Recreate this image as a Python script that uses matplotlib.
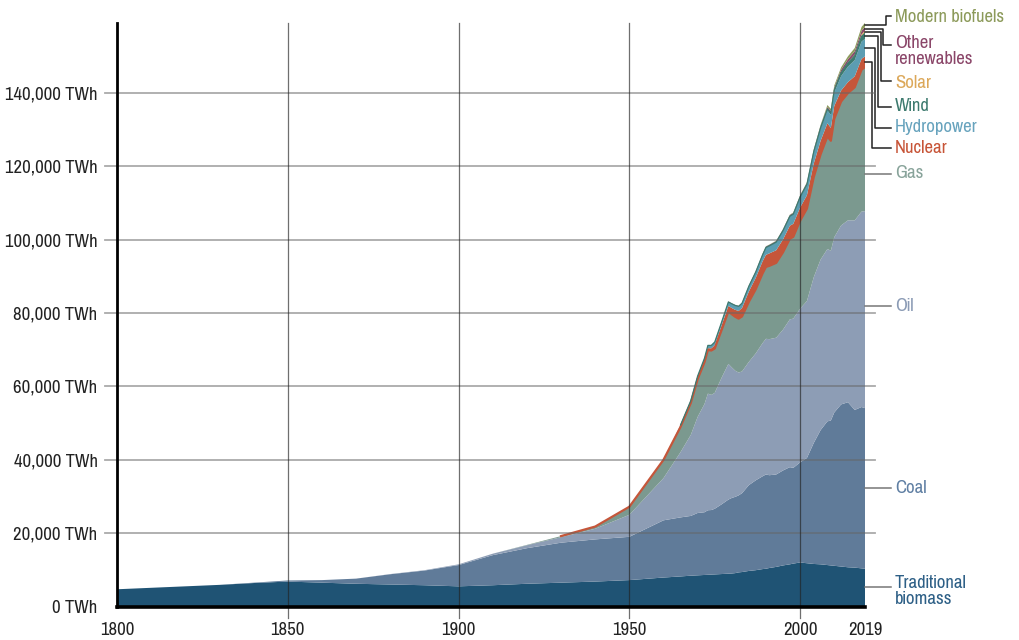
#global primary energy consumption by source, stacked area
import numpy as np
import matplotlib
matplotlib.use("Agg")
import matplotlib.pyplot as plt
from matplotlib import font_manager as fm
from matplotlib.textpath import TextPath

# the original uses a narrow sans face: pick the installed one whose width fits best
cands = {("Liberation Sans", "normal"), ("DejaVu Sans", "normal")}
for f in fm.fontManager.ttflist:
    if f.style != "normal" or f.weight not in (400, "normal", "regular"):
        continue
    if any(k in f.name for k in ("Serif", "Mono", "Slab", "Display")):
        continue
    if f.stretch in ("condensed", "semi-condensed", "extra-condensed") \
            or "Condensed" in f.name or "Narrow" in f.name:
        cands.add((f.name, f.stretch))
best, best_w = ("DejaVu Sans", "normal"), 130
for name, stretch in sorted(cands):
    try:
        fp = fm.FontProperties(family=name, stretch=stretch, size=14.5)
        w = TextPath((0, 0), "140,000 TWh", prop=fp).get_extents().width * 100 / 72
    except Exception:
        continue
    if abs(w - 90) < abs(best_w - 90):
        best, best_w = (name, stretch), w
plt.rcParams['font.family'] = [best[0], 'DejaVu Sans']
plt.rcParams['font.stretch'] = best[1]
FS = max(11.5, min(15.5, 14.5 * 90 / best_w))

years = [1800, 1810, 1820, 1830, 1840, 1850, 1860, 1870, 1880, 1890, 1900, 1910, 1920, 1930, 1940, 1950, 1960,
         1965, 1968, 1970, 1972, 1973, 1974, 1975, 1977, 1979, 1980,
         1981, 1982, 1983, 1985, 1987, 1989, 1990, 1991, 1993, 1995,
         1997, 1998, 2000, 2002, 2004, 2006, 2008, 2009, 2010, 2012,
         2014, 2016, 2018, 2019]

# TWh
biomass = [4700, 5100, 5500, 5900, 6400, 6800, 6500, 6200, 6000, 5800, 5500, 5800, 6200, 6500, 6800, 7200, 7900,
           8200, 8400, 8500, 8600, 8650, 8700, 8750, 8850, 8950, 9000,
           9100, 9300, 9400, 9700, 9900, 10200, 10300, 10500, 10800, 11200,
           11500, 11700, 12000, 11800, 11600, 11500, 11300, 11200, 11100, 10900,
           10700, 10600, 10400, 10300]
coal = [0, 0, 0, 0, 100, 300, 700, 1400, 2800, 4000, 5800, 8200, 9700, 10900, 11500, 11800, 15600,
        16100, 16300, 17000, 17100, 17600, 17600, 17900, 19000, 20200, 20600,
        20800, 21000, 21500, 23400, 24500, 25300, 25700, 25300, 25200, 25900,
        26500, 26100, 27300, 28700, 33000, 36600, 39200, 39500, 41800, 44200,
        45000, 43000, 44000, 43800]
oil = [0, 0, 0, 0, 0, 0, 0, 0, 50, 100, 200, 400, 800, 1500, 2900, 6000, 11500,
       17800, 22100, 26200, 29500, 31800, 31400, 31600, 34500, 37000, 35600,
       34400, 33500, 33200, 33600, 34600, 36300, 37000, 37100, 37300, 38400,
       40300, 40700, 41900, 42800, 45200, 46500, 47000, 46300, 47800, 48800,
       49600, 51700, 53300, 53700]
gas = [0, 0, 0, 0, 0, 0, 0, 0, 0, 0, 0, 0, 100, 300, 600, 2200, 5000,
       6900, 8700, 10300, 11400, 11900, 12100, 12100, 13000, 14300, 14500,
       14700, 14700, 15000, 16400, 17500, 19000, 19600, 20000, 20400, 21100,
       22000, 22300, 24000, 25200, 27300, 28700, 30700, 30000, 32300, 33800,
       34700, 36300, 38700, 39300]
nuclear = [0, 0, 0, 0, 0, 0, 0, 0, 0, 0, 0, 0, 0, 0, 0, 0, 0,
           100, 150, 250, 400, 500, 600, 900, 1200, 1500, 1700,
           1900, 2100, 2300, 2800, 3100, 3300, 3300, 3400, 3450, 3500,
           3550, 3550, 3600, 3650, 3700, 3700, 3600, 3500, 3500, 3000,
           3000, 3000, 2950, 2900]
hydro = [0, 0, 0, 0, 0, 0, 0, 0, 0, 0, 0, 0, 0, 0, 0, 0, 0,
         400, 500, 600, 700, 750, 800, 850, 950, 1100, 1150,
         1200, 1250, 1300, 1450, 1600, 1750, 2000, 2050, 2200, 2400,
         2550, 2600, 2800, 2900, 3100, 3300, 3500, 3550, 3700, 3900,
         4200, 4400, 4700, 4800]
wind = [0, 0, 0, 0, 0, 0, 0, 0, 0, 0, 0, 0, 0, 0, 0, 0, 0,
        0, 0, 0, 0, 0, 0, 0, 0, 0, 0,
        0, 0, 0, 0, 0, 10, 10, 10, 20, 20,
        30, 40, 60, 100, 150, 230, 380, 480, 600, 900,
        1000, 1200, 1400, 1500]
solar = [0, 0, 0, 0, 0, 0, 0, 0, 0, 0, 0, 0, 0, 0, 0, 0, 0,
         0, 0, 0, 0, 0, 0, 0, 0, 0, 0,
         0, 0, 0, 0, 0, 0, 0, 0, 0, 0,
         0, 0, 0, 0, 0, 0, 10, 20, 30, 100,
         190, 330, 580, 750]
other = [0, 0, 0, 0, 0, 0, 0, 0, 0, 0, 0, 0, 0, 0, 0, 0, 0,
         50, 55, 60, 70, 75, 80, 85, 90, 95, 100,
         110, 120, 130, 150, 180, 220, 250, 260, 280, 300,
         320, 330, 350, 400, 450, 500, 550, 600, 650, 750,
         850, 900, 980, 1000]
biofuels = [0, 0, 0, 0, 0, 0, 0, 0, 0, 0, 0, 0, 0, 0, 0, 0, 0,
            0, 0, 0, 0, 0, 0, 0, 0, 10, 20,
            25, 30, 35, 45, 55, 70, 80, 85, 90, 100,
            110, 110, 120, 150, 180, 300, 520, 550, 600, 650,
            780, 880, 1050, 1100]

names = ["Traditional\nbiomass", "Coal", "Oil", "Gas", "Nuclear", "Hydropower",
         "Wind", "Solar", "Other\nrenewables", "Modern biofuels"]
fill_colors = ["#1f5374", "#607b99", "#8d9db5", "#7b998f", "#c5563a", "#5c9db2",
               "#3c7a70", "#e2b463", "#8c4a6c", "#8c9c5c"]
text_colors = ["#2d5f86", "#5f7fa3", "#8b9bb5", "#88a39a", "#c75437", "#67a3bd",
               "#3d7a6e", "#dca85a", "#8a4568", "#8c9a5a"]

series = [biomass, coal, oil, gas, nuclear, hydro, wind, solar, other, biofuels]
yr = np.array(years)
cum = np.cumsum(np.array(series, dtype=float), axis=0)

W, H = 1020, 640
X0, X1, Y0, Y1 = 117, 865, 606.5, 22.7
YMAX = 159200

def xpx(px):
    return 1800 + (px - X0) * 219 / (X1 - X0)

def ypx(py):
    return (Y0 - py) * YMAX / (Y0 - Y1)

fig = plt.figure(figsize=(W / 100, H / 100), dpi=100)
ax = fig.add_axes([X0 / W, 1 - Y0 / H, (X1 - X0) / W, (Y0 - Y1) / H])

ax.stackplot(years, *series, colors=fill_colors, linewidth=0)

# thin strokes seen along the top of nuclear and wind layers
m = yr >= 1930
ax.plot(yr[m], cum[3][m], color="#c5563a", lw=1.6, zorder=2)
m = yr >= 1965
ax.plot(yr[m], cum[6][m], color="#3c7a70", lw=0.9, zorder=2)

ax.set_xlim(1800, 2019)
ax.set_ylim(0, YMAX)

# grid
for v in range(20000, 160000, 20000):
    ax.plot([xpx(105), xpx(875)], [v, v], color="#666666", lw=1.3, alpha=0.55,
            clip_on=False, zorder=3)
for x in [1850, 1900, 1950, 2000]:
    ax.plot([x, x], [ypx(618), YMAX], color="#222222", lw=0.9, alpha=0.65,
            clip_on=False, zorder=3)

for s in ["top", "right"]:
    ax.spines[s].set_visible(False)
ax.spines["left"].set_linewidth(2)
ax.spines["bottom"].set_linewidth(2.6)
ax.spines["left"].set_zorder(4)
ax.spines["bottom"].set_zorder(4)

ax.set_xticks([1800, 1850, 1900, 1950, 2000, 2019])
ax.set_xticklabels(["1800", "1850", "1900", "1950", "2000", "2019"])
yt = list(range(0, 160000, 20000))
ax.set_yticks(yt)
ax.set_yticklabels([f"{v:,} TWh" for v in yt])
ax.tick_params(axis="x", length=0, pad=11, labelsize=FS, colors="#222222")
ax.tick_params(axis="y", length=0, pad=14, labelsize=FS, colors="#222222")

# labels on the right
lx = xpx(895)
mid = cum[:, -1] - np.array([s[-1] for s in series]) / 2

# grey straight leaders
for i, py in [(0, 587), (1, 488), (2, 306), (3, 174)]:
    ax.plot([2019, xpx(891)], [ypx(py), ypx(py)], color="#777777", lw=1.1, clip_on=False)
ax.text(lx, ypx(591), names[0], color=text_colors[0], fontsize=FS, va="center",
        linespacing=0.95, clip_on=False)
for i, py in [(1, 488), (2, 306), (3, 173)]:
    ax.text(lx, ypx(py), names[i], color=text_colors[i], fontsize=FS, va="center")

# black elbow leaders
elbows = [(4, 871.7, 148.3, 148), (5, 875, 127.7, 127), (6, 878.3, 106.7, 106),
          (7, 881, 81, 83), (8, 883.3, 45, 51), (9, 885.5, 16, 17)]
for i, ex, ly, ty in elbows:
    y0 = mid[i]
    ax.plot([2019, xpx(ex), xpx(ex), xpx(891)], [y0, y0, ypx(ly), ypx(ly)],
            color="#222222", lw=1.1, clip_on=False)
    ax.text(lx, ypx(ty), names[i], color=text_colors[i], fontsize=FS, va="center",
            linespacing=0.95, clip_on=False)

fig.savefig("out.png", dpi=100)
